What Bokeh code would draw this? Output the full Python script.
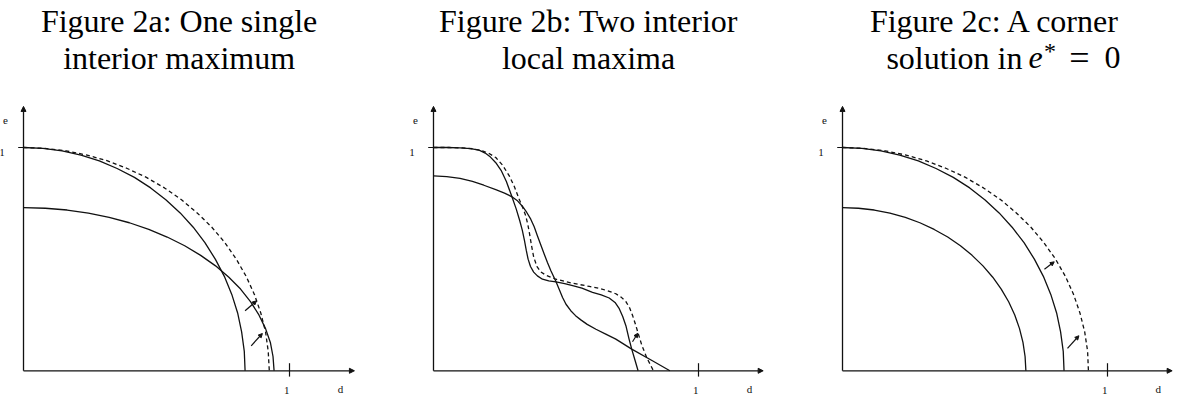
from bokeh.plotting import figure
from bokeh.layouts import row
from bokeh.models import Arrow, NormalHead, Label, Range1d
from bokeh.embed import file_html
from bokeh.resources import INLINE

# ---------------- data ----------------
# Panel a
a_outer_d = [0, .073, .145, .216, .285, .352, .417, .478, .535, .589, .638, .682,
             .721, .755, .783, .805, .820, .830, .833]
a_outer_e = [1, .996, .985, .966, .940, .906, .866, .819, .766, .707, .643, .574,
             .5, .423, .342, .259, .174, .087, 0]
a_dash_d = [0, .081, .160, .239, .316, .390, .462, .530, .594, .653, .708, .757,
            .800, .837, .868, .892, .910, .920, .924]
a_dash_e = [1, .996, .985, .966, .940, .906, .866, .819, .766, .707, .643, .574,
            .5, .423, .342, .259, .174, .087, 0]
a_low_d = [0, .082, .164, .244, .322, .398, .471, .540, .606, .666, .722, .772,
           .816, .854, .885, .910, .928, .938, .942]
a_low_e = [.731, .728, .720, .706, .687, .663, .633, .599, .560, .517, .470, .419,
           .366, .309, .250, .189, .127, .064, 0]
a_arrows = [(.833, .269, .876, .313), (.856, .112, .898, .167)]

# Panel b
b_a_d = [0, .05, .10, .14, .172, .195, .215, .235, .255, .275, .296, .312, .325,
         .335, .343, .350, .357, .366, .378, .392, .411, .435, .462, .495, .525,
         .560, .600, .633, .663, .685, .701, .714, .726, .738, .748, .761, .772]
b_a_e = [1.0, 1.0, .998, .995, .988, .975, .957, .932, .898, .848, .779, .725, .674,
         .630, .585, .540, .500, .467, .442, .425, .410, .403, .398, .390, .381,
         .370, .351, .340, .326, .306, .278, .243, .202, .142, .097, .045, 0]
b_dash_d = [0, .06, .109, .150, .185, .210, .235, .260, .286, .305, .323, .337,
            .348, .356, .363, .370, .378, .390, .405, .424, .445, .462, .525, .588,
            .630, .663, .688, .708, .726, .740, .752, .763, .773, .786, .805, .830]
b_dash_e = [1.0, 1.0, .998, .994, .985, .973, .955, .922, .873, .825, .769, .730,
            .694, .655, .610, .560, .510, .468, .443, .428, .418, .410, .392, .378,
            .368, .356, .345, .330, .310, .282, .245, .205, .165, .115, .058, 0]
b_low_d = [0, .05, .10, .147, .190, .235, .268, .296, .318, .336, .352, .367, .380,
           .392, .405, .418, .430, .443, .462, .475, .487, .500, .518, .536, .556,
           .580, .613, .650, .688, .748, .826, .892]
b_low_e = [.873, .870, .862, .848, .831, .811, .796, .779, .760, .736, .709, .679,
           .645, .605, .563, .522, .485, .448, .400, .363, .328, .298, .269, .247,
           .228, .208, .186, .164, .142, .097, .045, 0]
b_arrows = [(.751, .130, .771, .168)]

# Panel c
c_inner_d = [0, .060, .120, .179, .237, .292, .346, .397, .445, .489, .530, .567,
             .599, .627, .650, .668, .681, .689, .692]
c_inner_e = [.731, .728, .720, .706, .687, .663, .633, .599, .560, .517, .470, .419,
             .366, .309, .250, .189, .127, .064, 0]
c_mid_d = [0, .073, .145, .216, .286, .353, .418, .480, .537, .591, .640, .685,
           .724, .758, .786, .808, .823, .833, .836]
c_mid_e = [1, .996, .985, .966, .940, .906, .866, .819, .766, .707, .643, .574,
           .5, .423, .342, .259, .174, .087, 0]
c_dash_d = [0, .081, .161, .240, .317, .392, .464, .532, .597, .656, .711, .760,
            .804, .841, .872, .896, .914, .925, .928]
c_dash_e = [1, .996, .985, .966, .940, .906, .866, .819, .766, .707, .643, .574,
            .5, .423, .342, .259, .174, .087, 0]
c_arrows = [(.762, .455, .799, .488), (.849, .100, .892, .157)]

titles_a = ["Figure 2a: One single", "interior maximum"]
titles_b = ["Figure 2b: Two interior", "local maxima"]
title_c1 = "Figure 2c: A corner"
title_c2 = ["solution in", "e", "*", "=", "0"]

x_axis_end = 1.244
y_axis_end = 1.184

INK = "#111111"
SERIF = "'Liberation Serif', 'Times New Roman', serif"
TSIZE = "32px"


def make_panel(x_start, x_end, solids, dashed, arrows):
    p = figure(width=392, height=397, x_range=Range1d(x_start, x_end),
               y_range=Range1d(-0.1196, 1.6583), toolbar_location=None,
               output_backend="svg", min_border=0)
    p.axis.visible = False
    p.grid.visible = False
    p.outline_line_color = None
    p.background_fill_color = "white"
    p.border_fill_color = "white"
    # axes with arrowheads
    p.add_layout(Arrow(end=NormalHead(size=5, line_color=INK, fill_color=INK),
                       x_start=0, y_start=0, x_end=x_axis_end, y_end=0,
                       line_color=INK, line_width=1.3))
    p.add_layout(Arrow(end=NormalHead(size=5, line_color=INK, fill_color=INK),
                       x_start=0, y_start=0, x_end=0, y_end=y_axis_end,
                       line_color=INK, line_width=1.3))
    # ticks at 1
    p.segment(x0=[-0.02], y0=[1.0], x1=[0], y1=[1.0], line_color=INK, line_width=1.2)
    p.segment(x0=[1.0], y0=[0.034], x1=[1.0], y1=[-0.026], line_color=INK, line_width=1.2)
    # axis labels
    for (tx, ty, t) in [(-0.068, 1.12, "e"), (-0.081, 0.978, "1"),
                        (0.99, -0.088, "1"), (1.192, -0.08, "d")]:
        p.add_layout(Label(x=tx, y=ty, text=t, text_font=SERIF, text_font_size="11px",
                           text_align="center", text_baseline="middle", text_color=INK))
    for (xs, ys) in solids:
        p.line(xs, ys, line_color=INK, line_width=1.3, line_join="round")
    for (xs, ys) in dashed:
        p.line(xs, ys, line_color=INK, line_width=1.3, line_dash="4 3", line_join="round")
    for (x0, y0, x1, y1) in arrows:
        p.add_layout(Arrow(end=NormalHead(size=4, line_color=INK, fill_color=INK),
                           x_start=x0, y_start=y0, x_end=x1, y_end=y1,
                           line_color=INK, line_width=1.2))
    return p


def title(p, text, y, x=0.585, align="center", style="normal", size=TSIZE):
    p.add_layout(Label(x=x, y=y, text=text, text_font=SERIF, text_font_size=size,
                       text_align=align, text_baseline="alphabetic",
                       text_font_style=style, text_color="black"))


L1, L2 = 1.567, 1.403

pa = make_panel(-0.0865, 1.3872, [(a_outer_d, a_outer_e), (a_low_d, a_low_e)],
                [(a_dash_d, a_dash_e)], a_arrows)
title(pa, titles_a[0], L1)
title(pa, titles_a[1], L2)

pb = make_panel(-0.1547, 1.3245, [(b_a_d, b_a_e), (b_low_d, b_low_e)],
                [(b_dash_d, b_dash_e)], b_arrows)
title(pb, titles_b[0], L1)
title(pb, titles_b[1], L2)

pc = make_panel(-0.2189, 1.2604, [(c_inner_d, c_inner_e), (c_mid_d, c_mid_e)],
                [(c_dash_d, c_dash_e)], c_arrows)
title(pc, title_c1, L1, x=0.578)
title(pc, title_c2[0], L2, x=0.679, align="right")
title(pc, title_c2[1], L2, x=0.702, align="left", style="italic")
title(pc, title_c2[2], 1.430, x=0.760, align="left", size="24px")
title(pc, title_c2[3], L2, x=0.894, align="center", size="36px")
title(pc, title_c2[4], L2, x=0.989, align="left")

layout = row(pa, pb, pc)
open("out.html", "w").write(file_html(layout, INLINE))
